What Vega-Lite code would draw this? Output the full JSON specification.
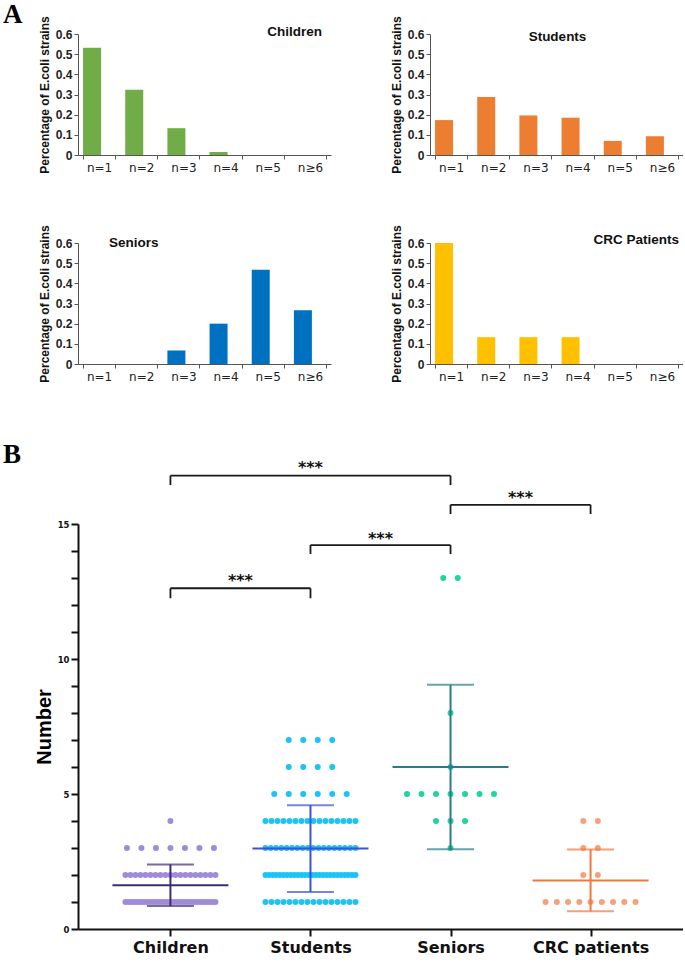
{
  "$schema": "https://vega.github.io/schema/vega-lite/v6.json",
  "padding": {"left": 3, "top": 0, "right": 0, "bottom": 0},
  "background": "white",
  "spacing": 58,
  "datasets": {
    "bars": [
      {"group": "Children", "n": "n=1", "pct": 0.532},
      {"group": "Children", "n": "n=2", "pct": 0.324},
      {"group": "Children", "n": "n=3", "pct": 0.133},
      {"group": "Children", "n": "n=4", "pct": 0.015},
      {"group": "Children", "n": "n=5", "pct": 0},
      {"group": "Children", "n": "n≥6", "pct": 0},
      {"group": "Students", "n": "n=1", "pct": 0.173},
      {"group": "Students", "n": "n=2", "pct": 0.288},
      {"group": "Students", "n": "n=3", "pct": 0.196},
      {"group": "Students", "n": "n=4", "pct": 0.185},
      {"group": "Students", "n": "n=5", "pct": 0.07},
      {"group": "Students", "n": "n≥6", "pct": 0.093},
      {"group": "Seniors", "n": "n=1", "pct": 0},
      {"group": "Seniors", "n": "n=2", "pct": 0},
      {"group": "Seniors", "n": "n=3", "pct": 0.067},
      {"group": "Seniors", "n": "n=4", "pct": 0.2},
      {"group": "Seniors", "n": "n=5", "pct": 0.467},
      {"group": "Seniors", "n": "n≥6", "pct": 0.267},
      {"group": "CRC Patients", "n": "n=1", "pct": 0.6},
      {"group": "CRC Patients", "n": "n=2", "pct": 0.133},
      {"group": "CRC Patients", "n": "n=3", "pct": 0.133},
      {"group": "CRC Patients", "n": "n=4", "pct": 0.133},
      {"group": "CRC Patients", "n": "n=5", "pct": 0},
      {"group": "CRC Patients", "n": "n≥6", "pct": 0}
    ],
    "sig": [
      {"a": "Children", "b": "Students", "span": 1, "yb": 12.62, "yt": 12.25, "ys": 13.05, "label": "***"},
      {"a": "Students", "b": "Seniors", "span": 1, "yb": 14.22, "yt": 13.89, "ys": 14.6, "label": "***"},
      {"a": "Seniors", "b": "CRC patients", "span": 1, "yb": 15.71, "yt": 15.37, "ys": 16.11, "label": "***"},
      {"a": "Children", "b": "Seniors", "span": 2, "yb": 16.79, "yt": 16.44, "ys": 17.22, "label": "***"}
    ],
    "obs": [
      {"group": "Children", "value": 1}, {"group": "Children", "value": 1}, {"group": "Children", "value": 1}, {"group": "Children", "value": 1}, {"group": "Children", "value": 1},
      {"group": "Children", "value": 1}, {"group": "Children", "value": 1}, {"group": "Children", "value": 1}, {"group": "Children", "value": 1}, {"group": "Children", "value": 1},
      {"group": "Children", "value": 1}, {"group": "Children", "value": 1}, {"group": "Children", "value": 1}, {"group": "Children", "value": 1}, {"group": "Children", "value": 1},
      {"group": "Children", "value": 1}, {"group": "Children", "value": 1}, {"group": "Children", "value": 1}, {"group": "Children", "value": 1}, {"group": "Children", "value": 1},
      {"group": "Children", "value": 1}, {"group": "Children", "value": 1}, {"group": "Children", "value": 1}, {"group": "Children", "value": 1}, {"group": "Children", "value": 1},
      {"group": "Children", "value": 1}, {"group": "Children", "value": 1}, {"group": "Children", "value": 1}, {"group": "Children", "value": 1}, {"group": "Children", "value": 1},
      {"group": "Children", "value": 1},
      {"group": "Children", "value": 2}, {"group": "Children", "value": 2}, {"group": "Children", "value": 2}, {"group": "Children", "value": 2}, {"group": "Children", "value": 2},
      {"group": "Children", "value": 2}, {"group": "Children", "value": 2}, {"group": "Children", "value": 2}, {"group": "Children", "value": 2}, {"group": "Children", "value": 2},
      {"group": "Children", "value": 2}, {"group": "Children", "value": 2}, {"group": "Children", "value": 2}, {"group": "Children", "value": 2}, {"group": "Children", "value": 2},
      {"group": "Children", "value": 2}, {"group": "Children", "value": 2}, {"group": "Children", "value": 2}, {"group": "Children", "value": 2},
      {"group": "Children", "value": 3}, {"group": "Children", "value": 3}, {"group": "Children", "value": 3}, {"group": "Children", "value": 3}, {"group": "Children", "value": 3},
      {"group": "Children", "value": 3}, {"group": "Children", "value": 3},
      {"group": "Children", "value": 4},
      {"group": "Students", "value": 1}, {"group": "Students", "value": 1}, {"group": "Students", "value": 1}, {"group": "Students", "value": 1}, {"group": "Students", "value": 1},
      {"group": "Students", "value": 1}, {"group": "Students", "value": 1}, {"group": "Students", "value": 1}, {"group": "Students", "value": 1}, {"group": "Students", "value": 1},
      {"group": "Students", "value": 1}, {"group": "Students", "value": 1}, {"group": "Students", "value": 1}, {"group": "Students", "value": 1}, {"group": "Students", "value": 1},
      {"group": "Students", "value": 1},
      {"group": "Students", "value": 2}, {"group": "Students", "value": 2}, {"group": "Students", "value": 2}, {"group": "Students", "value": 2}, {"group": "Students", "value": 2},
      {"group": "Students", "value": 2}, {"group": "Students", "value": 2}, {"group": "Students", "value": 2}, {"group": "Students", "value": 2}, {"group": "Students", "value": 2},
      {"group": "Students", "value": 2}, {"group": "Students", "value": 2}, {"group": "Students", "value": 2}, {"group": "Students", "value": 2}, {"group": "Students", "value": 2},
      {"group": "Students", "value": 2}, {"group": "Students", "value": 2}, {"group": "Students", "value": 2}, {"group": "Students", "value": 2}, {"group": "Students", "value": 2},
      {"group": "Students", "value": 2}, {"group": "Students", "value": 2}, {"group": "Students", "value": 2}, {"group": "Students", "value": 2}, {"group": "Students", "value": 2},
      {"group": "Students", "value": 2},
      {"group": "Students", "value": 3}, {"group": "Students", "value": 3}, {"group": "Students", "value": 3}, {"group": "Students", "value": 3}, {"group": "Students", "value": 3},
      {"group": "Students", "value": 3}, {"group": "Students", "value": 3}, {"group": "Students", "value": 3}, {"group": "Students", "value": 3}, {"group": "Students", "value": 3},
      {"group": "Students", "value": 3}, {"group": "Students", "value": 3}, {"group": "Students", "value": 3}, {"group": "Students", "value": 3}, {"group": "Students", "value": 3},
      {"group": "Students", "value": 3}, {"group": "Students", "value": 3}, {"group": "Students", "value": 3},
      {"group": "Students", "value": 4}, {"group": "Students", "value": 4}, {"group": "Students", "value": 4}, {"group": "Students", "value": 4}, {"group": "Students", "value": 4},
      {"group": "Students", "value": 4}, {"group": "Students", "value": 4}, {"group": "Students", "value": 4}, {"group": "Students", "value": 4}, {"group": "Students", "value": 4},
      {"group": "Students", "value": 4}, {"group": "Students", "value": 4}, {"group": "Students", "value": 4}, {"group": "Students", "value": 4}, {"group": "Students", "value": 4},
      {"group": "Students", "value": 4},
      {"group": "Students", "value": 5}, {"group": "Students", "value": 5}, {"group": "Students", "value": 5}, {"group": "Students", "value": 5}, {"group": "Students", "value": 5},
      {"group": "Students", "value": 5},
      {"group": "Students", "value": 6}, {"group": "Students", "value": 6}, {"group": "Students", "value": 6}, {"group": "Students", "value": 6},
      {"group": "Students", "value": 7}, {"group": "Students", "value": 7}, {"group": "Students", "value": 7}, {"group": "Students", "value": 7},
      {"group": "Seniors", "value": 3},
      {"group": "Seniors", "value": 4}, {"group": "Seniors", "value": 4}, {"group": "Seniors", "value": 4},
      {"group": "Seniors", "value": 5}, {"group": "Seniors", "value": 5}, {"group": "Seniors", "value": 5}, {"group": "Seniors", "value": 5}, {"group": "Seniors", "value": 5},
      {"group": "Seniors", "value": 5}, {"group": "Seniors", "value": 5},
      {"group": "Seniors", "value": 6},
      {"group": "Seniors", "value": 8},
      {"group": "Seniors", "value": 13}, {"group": "Seniors", "value": 13},
      {"group": "CRC patients", "value": 1}, {"group": "CRC patients", "value": 1}, {"group": "CRC patients", "value": 1}, {"group": "CRC patients", "value": 1}, {"group": "CRC patients", "value": 1},
      {"group": "CRC patients", "value": 1}, {"group": "CRC patients", "value": 1}, {"group": "CRC patients", "value": 1}, {"group": "CRC patients", "value": 1},
      {"group": "CRC patients", "value": 2}, {"group": "CRC patients", "value": 2},
      {"group": "CRC patients", "value": 3}, {"group": "CRC patients", "value": 3},
      {"group": "CRC patients", "value": 4}, {"group": "CRC patients", "value": 4}
    ]
  },
  "vconcat": [
    {
      "title": {"text": "A", "anchor": "start", "frame": "group", "font": "Liberation Serif", "fontSize": 27, "fontWeight": "bold", "color": "#000", "dx": -75, "offset": 0, "dy": 13},
      "spacing": 50,
      "vconcat": [
        {
          "spacing": 59,
          "hconcat": [
            {
              "width": 253, "height": 121,
              "title": {"text": "Children", "anchor": "end", "frame": "group", "dx": -9, "dy": 30, "offset": 0, "baseline": "middle", "font": "Liberation Sans", "fontSize": 13.5, "fontWeight": "bold", "color": "#111"},
              "data": {"name": "bars"},
              "transform": [{"filter": "datum.group === 'Children'"}],
              "mark": {"type": "bar", "color": "#70AD47"},
              "encoding": {
                "x": {"field": "n", "type": "nominal", "sort": ["n=1", "n=2", "n=3", "n=4", "n=5", "n≥6"], "scale": {"paddingInner": 0.24, "paddingOuter": 0.12}, "axis": {"title": null, "tickBand": "extent"}},
                "y": {"field": "pct", "type": "quantitative", "scale": {"domain": [0, 0.6], "nice": false}, "axis": {"title": "Percentage of E.coli strains", "values": [0, 0.1, 0.2, 0.3, 0.4, 0.5, 0.6], "format": ".1~f"}}
              }
            },
            {
              "width": 253, "height": 121,
              "title": {"text": "Students", "anchor": "middle", "frame": "group", "dx": 1, "dy": 35, "offset": 0, "baseline": "middle", "font": "Liberation Sans", "fontSize": 13.5, "fontWeight": "bold", "color": "#111"},
              "data": {"name": "bars"},
              "transform": [{"filter": "datum.group === 'Students'"}],
              "mark": {"type": "bar", "color": "#ED7D31"},
              "encoding": {
                "x": {"field": "n", "type": "nominal", "sort": ["n=1", "n=2", "n=3", "n=4", "n=5", "n≥6"], "scale": {"paddingInner": 0.24, "paddingOuter": 0.12}, "axis": {"title": null, "tickBand": "extent"}},
                "y": {"field": "pct", "type": "quantitative", "scale": {"domain": [0, 0.6], "nice": false}, "axis": {"title": "Percentage of E.coli strains", "values": [0, 0.1, 0.2, 0.3, 0.4, 0.5, 0.6], "format": ".1~f"}}
              }
            }
          ]
        },
        {
          "spacing": 59,
          "hconcat": [
            {
              "width": 253, "height": 121,
              "title": {"text": "Seniors", "anchor": "start", "frame": "group", "dx": 31, "dy": 32, "offset": 0, "baseline": "middle", "font": "Liberation Sans", "fontSize": 13.5, "fontWeight": "bold", "color": "#111"},
              "data": {"name": "bars"},
              "transform": [{"filter": "datum.group === 'Seniors'"}],
              "mark": {"type": "bar", "color": "#0070C0"},
              "encoding": {
                "x": {"field": "n", "type": "nominal", "sort": ["n=1", "n=2", "n=3", "n=4", "n=5", "n≥6"], "scale": {"paddingInner": 0.24, "paddingOuter": 0.12}, "axis": {"title": null, "tickBand": "extent"}},
                "y": {"field": "pct", "type": "quantitative", "scale": {"domain": [0, 0.6], "nice": false}, "axis": {"title": "Percentage of E.coli strains", "values": [0, 0.1, 0.2, 0.3, 0.4, 0.5, 0.6], "format": ".1~f"}}
              }
            },
            {
              "width": 253, "height": 121,
              "title": {"text": "CRC Patients", "anchor": "end", "frame": "group", "dx": -4, "dy": 29, "offset": 0, "baseline": "middle", "font": "Liberation Sans", "fontSize": 13.5, "fontWeight": "bold", "color": "#111"},
              "data": {"name": "bars"},
              "transform": [{"filter": "datum.group === 'CRC Patients'"}],
              "mark": {"type": "bar", "color": "#FFC000"},
              "encoding": {
                "x": {"field": "n", "type": "nominal", "sort": ["n=1", "n=2", "n=3", "n=4", "n=5", "n≥6"], "scale": {"paddingInner": 0.24, "paddingOuter": 0.12}, "axis": {"title": null, "tickBand": "extent"}},
                "y": {"field": "pct", "type": "quantitative", "scale": {"domain": [0, 0.6], "nice": false}, "axis": {"title": "Percentage of E.coli strains", "values": [0, 0.1, 0.2, 0.3, 0.4, 0.5, 0.6], "format": ".1~f"}}
              }
            }
          ]
        }
      ]
    },
    {
      "width": 605, "height": 405,
      "title": {"text": "B", "anchor": "start", "frame": "group", "font": "Liberation Serif", "fontSize": 27, "fontWeight": "bold", "color": "#000", "dx": -75, "offset": 0, "dy": 9},
      "resolve": {"scale": {"color": "independent"}},
      "layer": [
        {
          "data": {"name": "obs"},
          "transform": [
            {"window": [{"op": "row_number", "as": "rk"}], "groupby": ["group", "value"]},
            {"joinaggregate": [{"op": "count", "as": "cnt"}], "groupby": ["group", "value"]},
            {"calculate": "(datum.rk - (datum.cnt + 1) / 2) * min(14.5, 90 / max(1, datum.cnt - 1))", "as": "off"}
          ],
          "mark": {"type": "circle", "size": 36, "opacity": 1},
          "encoding": {
            "x": {"field": "group", "type": "nominal", "title": null, "scale": {"type": "point", "domain": ["Children", "Students", "Seniors", "CRC patients"], "padding": 0.66},
              "axis": {"title": null, "labelFont": "DejaVu Sans", "labelFontSize": 16, "labelFontWeight": "bold", "labelColor": "#111", "domainColor": "#111", "domainWidth": 2, "tickColor": "#111", "tickWidth": 2, "tickSize": 7, "labelPadding": 3}},
            "xOffset": {"field": "off", "type": "quantitative", "scale": {"domain": [-50, 50], "range": [-50, 50]}},
            "y": {"field": "value", "type": "quantitative", "title": "Number", "scale": {"domain": [0, 15], "nice": false},
              "axis": {"title": "Number", "values": [0, 1, 2, 3, 4, 5, 6, 7, 8, 9, 10, 11, 12, 13, 14, 15], "labelExpr": "datum.value % 5 === 0 ? datum.label : ''", "labelOverlap": false, "labelFont": "DejaVu Sans", "labelFontSize": 8.5, "labelFontWeight": "bold", "labelColor": "#111", "domainColor": "#111", "domainWidth": 2, "tickColor": "#111", "tickWidth": 2, "tickSize": 7, "labelPadding": 2, "titleFont": "Liberation Sans", "titleFontSize": 20, "titleFontWeight": "bold", "titleColor": "#000", "titlePadding": 3}},
            "color": {"field": "group", "type": "nominal", "scale": {"domain": ["Children", "Students", "Seniors", "CRC patients"], "range": ["#A08BD8", "#1EC3F5", "#22D3A2", "#F5A17C"]}, "legend": null}
          }
        },
        {
          "data": {"name": "obs"},
          "mark": {"type": "tick", "orient": "horizontal", "size": 116, "thickness": 2},
          "encoding": {
            "x": {"field": "group", "type": "nominal", "title": null, "scale": {"type": "point", "domain": ["Children", "Students", "Seniors", "CRC patients"], "padding": 0.66},
              "axis": {"title": null, "labelFont": "DejaVu Sans", "labelFontSize": 16, "labelFontWeight": "bold", "labelColor": "#111", "domainColor": "#111", "domainWidth": 2, "tickColor": "#111", "tickWidth": 2, "tickSize": 7, "labelPadding": 3}},
            "y": {"aggregate": "mean", "field": "value", "type": "quantitative", "title": "Number", "scale": {"domain": [0, 15], "nice": false},
              "axis": {"title": "Number", "values": [0, 1, 2, 3, 4, 5, 6, 7, 8, 9, 10, 11, 12, 13, 14, 15], "labelExpr": "datum.value % 5 === 0 ? datum.label : ''", "labelOverlap": false, "labelFont": "DejaVu Sans", "labelFontSize": 8.5, "labelFontWeight": "bold", "labelColor": "#111", "domainColor": "#111", "domainWidth": 2, "tickColor": "#111", "tickWidth": 2, "tickSize": 7, "labelPadding": 2, "titleFont": "Liberation Sans", "titleFontSize": 20, "titleFontWeight": "bold", "titleColor": "#000", "titlePadding": 3}},
            "color": {"field": "group", "type": "nominal", "scale": {"domain": ["Children", "Students", "Seniors", "CRC patients"], "range": ["#3E2C72", "#3B52D6", "#2A7C8A", "#F0783E"]}, "legend": null}
          }
        },
        {
          "data": {"name": "obs"},
          "mark": {"type": "errorbar", "extent": "stdev", "ticks": {"size": 47, "thickness": 2}, "rule": {"strokeWidth": 2}},
          "encoding": {
            "x": {"field": "group", "type": "nominal", "title": null, "scale": {"type": "point", "domain": ["Children", "Students", "Seniors", "CRC patients"], "padding": 0.66},
              "axis": {"title": null, "labelFont": "DejaVu Sans", "labelFontSize": 16, "labelFontWeight": "bold", "labelColor": "#111", "domainColor": "#111", "domainWidth": 2, "tickColor": "#111", "tickWidth": 2, "tickSize": 7, "labelPadding": 3}},
            "y": {"field": "value", "type": "quantitative", "title": "Number", "scale": {"domain": [0, 15], "nice": false},
              "axis": {"title": "Number", "values": [0, 1, 2, 3, 4, 5, 6, 7, 8, 9, 10, 11, 12, 13, 14, 15], "labelExpr": "datum.value % 5 === 0 ? datum.label : ''", "labelOverlap": false, "labelFont": "DejaVu Sans", "labelFontSize": 8.5, "labelFontWeight": "bold", "labelColor": "#111", "domainColor": "#111", "domainWidth": 2, "tickColor": "#111", "tickWidth": 2, "tickSize": 7, "labelPadding": 2, "titleFont": "Liberation Sans", "titleFontSize": 20, "titleFontWeight": "bold", "titleColor": "#000", "titlePadding": 3}},
            "color": {"field": "group", "type": "nominal", "scale": {"domain": ["Children", "Students", "Seniors", "CRC patients"], "range": ["#3E2C72", "#3B52D6", "#2A7C8A", "#F0783E"]}, "legend": null}
          }
        },
        {
          "data": {"name": "sig"},
          "mark": {"type": "rule", "strokeWidth": 1.8, "color": "#1a1a1a"},
          "encoding": {
            "x": {"field": "a", "type": "nominal", "title": null, "scale": {"type": "point", "domain": ["Children", "Students", "Seniors", "CRC patients"], "padding": 0.66},
              "axis": {"title": null, "labelFont": "DejaVu Sans", "labelFontSize": 16, "labelFontWeight": "bold", "labelColor": "#111", "domainColor": "#111", "domainWidth": 2, "tickColor": "#111", "tickWidth": 2, "tickSize": 7, "labelPadding": 3}},
            "x2": {"field": "b"},
            "y": {"field": "yb", "type": "quantitative", "title": "Number", "scale": {"domain": [0, 15], "nice": false},
              "axis": {"title": "Number", "values": [0, 1, 2, 3, 4, 5, 6, 7, 8, 9, 10, 11, 12, 13, 14, 15], "labelExpr": "datum.value % 5 === 0 ? datum.label : ''", "labelOverlap": false, "labelFont": "DejaVu Sans", "labelFontSize": 8.5, "labelFontWeight": "bold", "labelColor": "#111", "domainColor": "#111", "domainWidth": 2, "tickColor": "#111", "tickWidth": 2, "tickSize": 7, "labelPadding": 2, "titleFont": "Liberation Sans", "titleFontSize": 20, "titleFontWeight": "bold", "titleColor": "#000", "titlePadding": 3}}
          }
        },
        {
          "data": {"name": "sig"},
          "mark": {"type": "rule", "strokeWidth": 1.8, "color": "#1a1a1a"},
          "encoding": {
            "x": {"field": "a", "type": "nominal", "title": null, "scale": {"type": "point", "domain": ["Children", "Students", "Seniors", "CRC patients"], "padding": 0.66},
              "axis": {"title": null, "labelFont": "DejaVu Sans", "labelFontSize": 16, "labelFontWeight": "bold", "labelColor": "#111", "domainColor": "#111", "domainWidth": 2, "tickColor": "#111", "tickWidth": 2, "tickSize": 7, "labelPadding": 3}},
            "y": {"field": "yb", "type": "quantitative", "title": "Number", "scale": {"domain": [0, 15], "nice": false},
              "axis": {"title": "Number", "values": [0, 1, 2, 3, 4, 5, 6, 7, 8, 9, 10, 11, 12, 13, 14, 15], "labelExpr": "datum.value % 5 === 0 ? datum.label : ''", "labelOverlap": false, "labelFont": "DejaVu Sans", "labelFontSize": 8.5, "labelFontWeight": "bold", "labelColor": "#111", "domainColor": "#111", "domainWidth": 2, "tickColor": "#111", "tickWidth": 2, "tickSize": 7, "labelPadding": 2, "titleFont": "Liberation Sans", "titleFontSize": 20, "titleFontWeight": "bold", "titleColor": "#000", "titlePadding": 3}},
            "y2": {"field": "yt"}
          }
        },
        {
          "data": {"name": "sig"},
          "mark": {"type": "rule", "strokeWidth": 1.8, "color": "#1a1a1a"},
          "encoding": {
            "x": {"field": "b", "type": "nominal", "title": null, "scale": {"type": "point", "domain": ["Children", "Students", "Seniors", "CRC patients"], "padding": 0.66},
              "axis": {"title": null, "labelFont": "DejaVu Sans", "labelFontSize": 16, "labelFontWeight": "bold", "labelColor": "#111", "domainColor": "#111", "domainWidth": 2, "tickColor": "#111", "tickWidth": 2, "tickSize": 7, "labelPadding": 3}},
            "y": {"field": "yb", "type": "quantitative", "title": "Number", "scale": {"domain": [0, 15], "nice": false},
              "axis": {"title": "Number", "values": [0, 1, 2, 3, 4, 5, 6, 7, 8, 9, 10, 11, 12, 13, 14, 15], "labelExpr": "datum.value % 5 === 0 ? datum.label : ''", "labelOverlap": false, "labelFont": "DejaVu Sans", "labelFontSize": 8.5, "labelFontWeight": "bold", "labelColor": "#111", "domainColor": "#111", "domainWidth": 2, "tickColor": "#111", "tickWidth": 2, "tickSize": 7, "labelPadding": 2, "titleFont": "Liberation Sans", "titleFontSize": 20, "titleFontWeight": "bold", "titleColor": "#000", "titlePadding": 3}},
            "y2": {"field": "yt"}
          }
        },
        {
          "data": {"name": "sig"},
          "transform": [{"filter": "datum.span === 1"}],
          "mark": {"type": "text", "font": "DejaVu Sans", "fontSize": 16, "fontWeight": "bold", "color": "#111", "baseline": "middle", "dy": 4, "dx": 70},
          "encoding": {
            "x": {"field": "a", "type": "nominal", "title": null, "scale": {"type": "point", "domain": ["Children", "Students", "Seniors", "CRC patients"], "padding": 0.66},
              "axis": {"title": null, "labelFont": "DejaVu Sans", "labelFontSize": 16, "labelFontWeight": "bold", "labelColor": "#111", "domainColor": "#111", "domainWidth": 2, "tickColor": "#111", "tickWidth": 2, "tickSize": 7, "labelPadding": 3}},
            "y": {"field": "ys", "type": "quantitative", "title": "Number", "scale": {"domain": [0, 15], "nice": false},
              "axis": {"title": "Number", "values": [0, 1, 2, 3, 4, 5, 6, 7, 8, 9, 10, 11, 12, 13, 14, 15], "labelExpr": "datum.value % 5 === 0 ? datum.label : ''", "labelOverlap": false, "labelFont": "DejaVu Sans", "labelFontSize": 8.5, "labelFontWeight": "bold", "labelColor": "#111", "domainColor": "#111", "domainWidth": 2, "tickColor": "#111", "tickWidth": 2, "tickSize": 7, "labelPadding": 2, "titleFont": "Liberation Sans", "titleFontSize": 20, "titleFontWeight": "bold", "titleColor": "#000", "titlePadding": 3}},
            "text": {"field": "label"}
          }
        },
        {
          "data": {"name": "sig"},
          "transform": [{"filter": "datum.span === 2"}],
          "mark": {"type": "text", "font": "DejaVu Sans", "fontSize": 16, "fontWeight": "bold", "color": "#111", "baseline": "middle", "dy": 4, "dx": 140},
          "encoding": {
            "x": {"field": "a", "type": "nominal", "title": null, "scale": {"type": "point", "domain": ["Children", "Students", "Seniors", "CRC patients"], "padding": 0.66},
              "axis": {"title": null, "labelFont": "DejaVu Sans", "labelFontSize": 16, "labelFontWeight": "bold", "labelColor": "#111", "domainColor": "#111", "domainWidth": 2, "tickColor": "#111", "tickWidth": 2, "tickSize": 7, "labelPadding": 3}},
            "y": {"field": "ys", "type": "quantitative", "title": "Number", "scale": {"domain": [0, 15], "nice": false},
              "axis": {"title": "Number", "values": [0, 1, 2, 3, 4, 5, 6, 7, 8, 9, 10, 11, 12, 13, 14, 15], "labelExpr": "datum.value % 5 === 0 ? datum.label : ''", "labelOverlap": false, "labelFont": "DejaVu Sans", "labelFontSize": 8.5, "labelFontWeight": "bold", "labelColor": "#111", "domainColor": "#111", "domainWidth": 2, "tickColor": "#111", "tickWidth": 2, "tickSize": 7, "labelPadding": 2, "titleFont": "Liberation Sans", "titleFontSize": 20, "titleFontWeight": "bold", "titleColor": "#000", "titlePadding": 3}},
            "text": {"field": "label"}
          }
        }
      ]
    }
  ],
  "config": {
    "view": {"stroke": null},
    "axis": {"grid": false, "domainColor": "#555", "tickColor": "#555", "labelColor": "#222", "titleColor": "#111"},
    "axisX": {"labelFont": "DejaVu Sans", "labelFontSize": 12, "labelAngle": 0, "tickSize": 4, "labelPadding": 3},
    "axisY": {"labelFont": "Liberation Sans", "labelFontWeight": "bold", "labelFontSize": 12, "tickSize": 4, "labelPadding": 2, "titleFont": "Liberation Sans", "titleFontSize": 12, "titleFontWeight": "bold", "titlePadding": 4}
  }
}
